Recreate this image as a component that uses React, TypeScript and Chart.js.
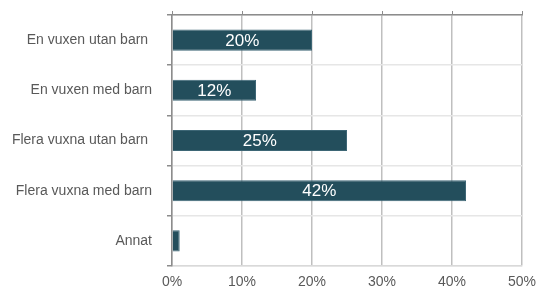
import React, { useEffect, useRef } from "react";
import { Chart, registerables } from "chart.js";
Chart.register(...registerables);

const categories = ["En vuxen utan barn ", "En vuxen med barn", "Flera vuxna utan barn ", "Flera vuxna med barn", "Annat"];
const values = [20, 12, 25, 42, 1.1];
const dataLabels = ["20%", "12%", "25%", "42%", ""];
const xTicks = [0, 10, 20, 30, 40, 50];

const FONT = "'Liberation Sans', Arial, sans-serif";

const labelPlugin = {
  id: "barLabels",
  afterDatasetsDraw(chart: any) {
    const ctx = chart.ctx;
    const meta = chart.getDatasetMeta(0);
    ctx.save();
    ctx.fillStyle = "#ffffff";
    ctx.font = `17px ${FONT}`;
    ctx.textAlign = "center";
    ctx.textBaseline = "middle";
    meta.data.forEach((el: any, i: number) => {
      const t = dataLabels[i];
      if (!t) return;
      const cx = (el.x + el.base) / 2;
      ctx.fillText(t, cx, el.y + 1);
    });
    ctx.restore();
  },
};

export default function App() {
  const ref = useRef<HTMLCanvasElement | null>(null);
  useEffect(() => {
    if (!ref.current) return;
    const chart = new Chart(ref.current, {
      type: "bar",
      data: {
        labels: categories,
        datasets: [
          {
            data: values,
            backgroundColor: "#234E5C",
            borderColor: "#3D6675",
            borderWidth: 1,
            barPercentage: 0.84,
            categoryPercentage: 0.5,
          },
        ],
      },
      options: {
        indexAxis: "y",
        responsive: false,
        animation: false,
        layout: { padding: { left: 0, right: 17, top: 11, bottom: 0 } },
        plugins: { legend: { display: false }, tooltip: { enabled: false } },
        scales: {
          x: {
            min: 0,
            max: 50,
            afterBuildTicks: (s: any) => {
              s.ticks = xTicks.map((v) => ({ value: v }));
            },
            afterFit: (s: any) => {
              s.height = 25;
              s.paddingLeft = 0;
              s.paddingRight = 0;
            },
            ticks: {
              callback: (v: any) => v + "%",
              color: "#595959",
              font: { family: FONT, size: 14 },
              padding: 8,
            },
            grid: { color: "#BFBFBF", lineWidth: 1.5, drawTicks: false },
            border: { display: true, color: "#D9D9D9", width: 1.5 },
          },
          x2: {
            position: "top",
            min: 0,
            max: 50,
            afterBuildTicks: (s: any) => {
              s.ticks = xTicks.map((v) => ({ value: v }));
            },
            afterFit: (s: any) => {
              s.height = 4;
              s.paddingLeft = 0;
              s.paddingRight = 0;
            },
            ticks: { display: true, color: "rgba(0,0,0,0)", font: { size: 1 }, padding: 0 },
            grid: { drawOnChartArea: false, drawTicks: true, tickLength: 4, color: "#8C8C8C" },
            border: { display: true, color: "#8C8C8C", width: 1.5 },
          },
          y: {
            offset: true,
            afterFit: (s: any) => {
              s.width = 172;
              s.paddingTop = 0;
              s.paddingBottom = 0;
            },
            ticks: {
              color: "#595959",
              font: { family: FONT, size: 14 },
              padding: 15,
            },
            grid: { offset: true, color: "#E6E6E6", lineWidth: 1.5, tickLength: 5, tickColor: "#8C8C8C" },
            border: { display: true, color: "#8C8C8C", width: 1.5 },
          },
        },
      },
      plugins: [labelPlugin],
    } as any);
    return () => chart.destroy();
  }, []);
  return (
    <div style={{ position: "fixed", left: 0, top: 0, width: 539, height: 291, background: "#fff" }}>
      <canvas ref={ref} width={539} height={291} />
    </div>
  );
}
